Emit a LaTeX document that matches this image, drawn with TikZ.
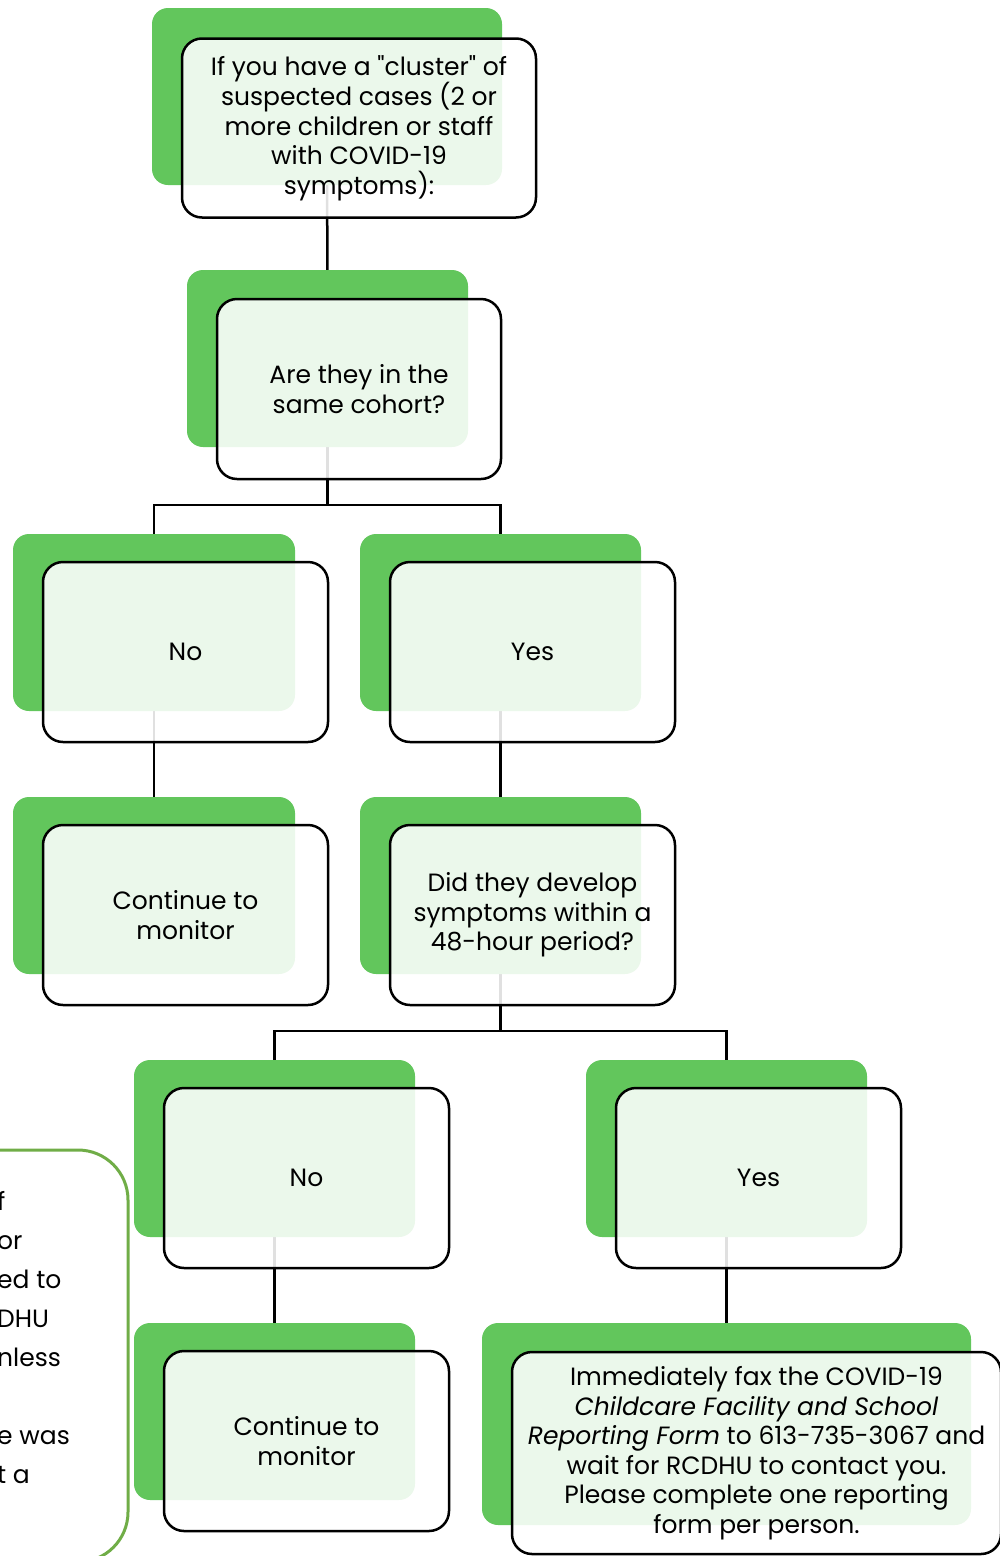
\documentclass[tikz,border=0pt]{standalone}
\usepackage{fontspec}
\newfontfamily\pop{Poppins}
\definecolor{ggreen}{HTML}{62C65C}
\definecolor{oliv}{HTML}{70AD47}
\pgfdeclarelayer{bg}
\pgfsetlayers{bg,main}
\tikzset{
 greenbox/.style={fill=ggreen, rounded corners=16pt, inner sep=0pt, draw=none},
 frontbox/.style={draw=black, line width=2.5pt, fill=white, fill opacity=0.88, text opacity=1, rounded corners=20pt, align=center, inner sep=2pt, font=\pop\fontsize{25}{29.5}\selectfont},
 conn/.style={draw=black, line width=2.5pt},
 lefttxt/.style={anchor=base west, inner sep=0pt, font=\pop\fontsize{25}{29.5}\selectfont},
}
\begin{document}
\begin{tikzpicture}[x=1pt,y=-1pt]
\useasboundingbox (0,0) rectangle (1000,1556);
% row 1
\node[greenbox, minimum width=350pt, minimum height=177pt] (g1) at (327,96.5) {};
\node[frontbox, minimum width=354pt, minimum height=179pt] (f1) at (359,128) {If you have a "cluster" of\\suspected cases (2 or\\more children or staff\\with COVID-19\\symptoms):};
% row 2
\node[greenbox, minimum width=281pt, minimum height=177pt] (g2) at (327.5,358.5) {};
\node[frontbox, minimum width=284pt, minimum height=180pt] (f2) at (359,389) {Are they in the\\same cohort?};
% row 3
\node[greenbox, minimum width=282pt, minimum height=177pt] (g3) at (154,622.5) {};
\node[frontbox, minimum width=285pt, minimum height=180pt] (f3) at (185.5,652) {No};
\node[greenbox, minimum width=281pt, minimum height=177pt] (g4) at (500.5,622.5) {};
\node[frontbox, minimum width=285pt, minimum height=180pt] (f4) at (532.5,652) {Yes};
% row 4
\node[greenbox, minimum width=282pt, minimum height=177pt] (g5) at (154,885.5) {};
\node[frontbox, minimum width=285pt, minimum height=180pt] (f5) at (185.5,915) {Continue to\\monitor};
\node[greenbox, minimum width=281pt, minimum height=177pt] (g6) at (500.5,885.5) {};
\node[frontbox, minimum width=285pt, minimum height=180pt] (f6) at (532.5,915) {Did they develop\\symptoms within a\\48-hour period?};
% row 5
\node[greenbox, minimum width=281pt, minimum height=177pt] (g7) at (274.5,1148.5) {};
\node[frontbox, minimum width=285pt, minimum height=180pt] (f7) at (306.5,1178) {No};
\node[greenbox, minimum width=281pt, minimum height=177pt] (g8) at (726.5,1148.5) {};
\node[frontbox, minimum width=285pt, minimum height=180pt] (f8) at (758.5,1178) {Yes};
% row 6
\node[greenbox, minimum width=281pt, minimum height=177pt] (g9) at (274.5,1411.5) {};
\node[frontbox, minimum width=285pt, minimum height=180pt] (f9) at (306.5,1441) {Continue to\\monitor};
\node[greenbox, minimum width=489pt, minimum height=202pt] (g10) at (726.5,1424) {};
\node[frontbox, minimum width=489pt, minimum height=202pt] (f10) at (756.5,1453) {Immediately fax the COVID-19\\\textit{Childcare Facility and School}\\\textit{Reporting Form} to 613-735-3067 and\\wait for RCDHU to contact you.\\Please complete one reporting\\form per person.};
% left partial box
\node[draw=oliv, line width=3pt, rounded corners=50pt, minimum width=428pt, minimum height=412pt, inner sep=0pt] (lb) at (-86,1356) {};
\node[lefttxt] (l1) at (-3,1210) {f};
\node[lefttxt] (l2) at (-3,1249) {or};
\node[lefttxt] (l3) at (-3,1288) {ed to};
\node[lefttxt] (l4) at (-3,1327) {DHU};
\node[lefttxt] (l5) at (-3,1366) {nless};
\node[lefttxt] (l6) at (-3,1444) {e was};
\node[lefttxt] (l7) at (-3,1483) {t a};
% connectors
\begin{pgfonlayer}{bg}
\coordinate (b1) at (0,505);
\coordinate (b2) at (0,1031);
\draw[conn] (g1.center) -- (g2.center);
\draw[conn] (g2.center) -- (g2 |- b1) -| (g3.center);
\draw[conn] (g2 |- b1) -| (g4.center);
\draw[conn] (g3.center) -- (g5.center);
\draw[conn] (g4.center) -- (g6.center);
\draw[conn] (g6.center) -- (g6 |- b2) -| (g7.center);
\draw[conn] (g6 |- b2) -| (g8.center);
\draw[conn] (g7.center) -- (g9.center);
\draw[conn] (g8.center) -- (g10.center);
\end{pgfonlayer}
\end{tikzpicture}
\end{document}
